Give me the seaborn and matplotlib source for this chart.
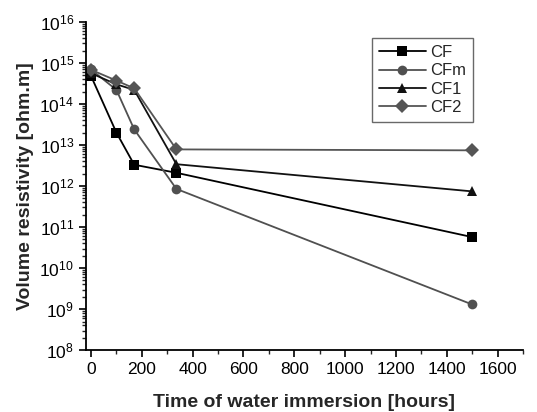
import matplotlib
matplotlib.use("Agg")
import matplotlib.pyplot as plt
import matplotlib.ticker as mticker
import seaborn as sns
import pandas as pd

# immersion time in hours
hours = [0, 100, 170, 336, 1500]

# volume resistivity [ohm.m]
cf = [4.8e14, 2.0e13, 3.3e12, 2.1e12, 5.7e10]
cfm = [6.9e14, 2.2e14, 2.4e13, 8.5e11, 1.3e9]
cf1 = [5.6e14, 3.0e14, 2.2e14, 3.4e12, 7.4e11]
cf2 = [6.8e14, 3.7e14, 2.4e14, 7.8e12, 7.4e12]

samples = ['CF', 'CFm', 'CF1', 'CF2']
series = [cf, cfm, cf1, cf2]

rows = []
for name, vals in zip(samples, series):
    for h, v in zip(hours, vals):
        rows.append({'hours': h, 'resistivity': v, 'sample': name})
df = pd.DataFrame(rows)

sns.set_style('ticks')
plt.rcParams['font.family'] = ['Liberation Sans', 'DejaVu Sans']
plt.rcParams['mathtext.default'] = 'regular'

fig = plt.figure(figsize=(5.37, 4.12), dpi=100)
ax = fig.add_axes([0.16, 0.15, 0.814, 0.797])

palette = {'CF': '#000000', 'CFm': '#505050', 'CF1': '#111111', 'CF2': '#555555'}
markers = {'CF': 's', 'CFm': 'o', 'CF1': '^', 'CF2': 'D'}

sns.lineplot(
    data=df, x='hours', y='resistivity', hue='sample', style='sample',
    hue_order=samples, style_order=samples,
    palette=palette, markers=markers, dashes=False,
    markersize=7, markeredgewidth=0, linewidth=1.3, ax=ax,
)

ax.set_yscale('log')
ax.set_ylim(1e8, 1e16)
ax.set_xlim(-20, 1700)
ax.xaxis.set_major_locator(mticker.MultipleLocator(200))
ax.xaxis.set_minor_locator(mticker.MultipleLocator(100))
ax.yaxis.set_major_locator(mticker.LogLocator(base=10, numticks=20))
ax.yaxis.set_minor_locator(mticker.LogLocator(base=10, subs=range(2, 10), numticks=20))

for side in ['top', 'right']:
    ax.spines[side].set_visible(False)
for side in ['left', 'bottom']:
    ax.spines[side].set_linewidth(1.3)
    ax.spines[side].set_color('black')

ax.tick_params(axis='both', which='major', direction='out', length=5, width=1.2,
               labelsize=12.5, colors='black')
ax.tick_params(axis='both', which='minor', direction='out', length=3, width=1.0)

ax.set_xlabel('Time of water immersion [hours]', fontsize=14, fontweight='bold', labelpad=12)
ax.set_ylabel('Volume resistivity [ohm.m]', fontsize=14, fontweight='bold', labelpad=4)

leg = ax.legend(loc='upper right', bbox_to_anchor=(0.905, 0.975), fontsize=12,
                frameon=True, fancybox=False, handlelength=2.8, borderpad=0.4,
                labelspacing=0.2, handletextpad=0.3)
leg.get_frame().set_edgecolor('#444444')
leg.get_frame().set_linewidth(1.0)
for line in leg.get_lines():
    line.set_markersize(7)

fig.savefig('out.png', dpi=100)
